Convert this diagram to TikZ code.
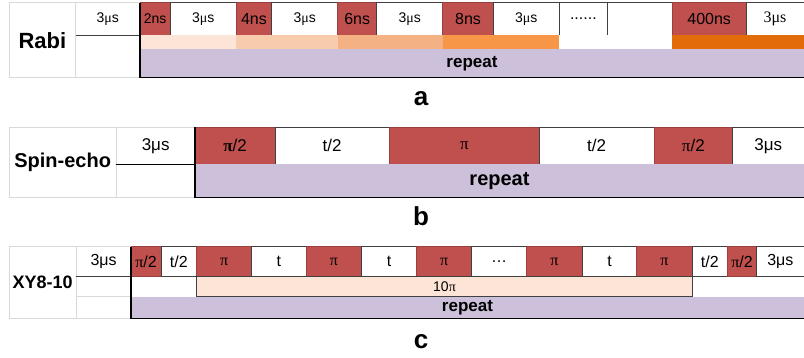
\documentclass[tikz,border=0pt]{standalone}
\usepackage{fontspec}
\setmainfont{Liberation Sans}
\newfontfamily\symf{Liberation Serif}
\usepackage{xcolor}
\usepackage{tikz}
\usetikzlibrary{positioning}
\definecolor{pulsered}{HTML}{C0504D}
\definecolor{repviolet}{HTML}{CCC0DA}
\definecolor{gridgray}{HTML}{D9D9D9}
\definecolor{edgegray}{HTML}{404040}
\definecolor{amp1}{HTML}{FCE4D6}
\definecolor{amp2}{HTML}{F8CBAD}
\definecolor{amp3}{HTML}{F4B183}
\definecolor{amp4}{HTML}{F79646}
\definecolor{amp5}{HTML}{E26B0A}
\newcommand{\pii}{{\symf π}}
\newcommand{\mus}{3{\symf μ}s}
% cell from x1 to x2 and y1 to y2 (pixel units)
\newcommand{\Cell}[7]{%
  \node[#2,minimum width={#4pt-#3pt},minimum height={#6pt-#5pt}]
    (#1) at ({(#3+#4)/2},{(#5+#6)/2}) {#7};}

\begin{document}
\begin{tikzpicture}[
  x=1pt,y=-1pt,
  every node/.style={inner sep=0pt,outer sep=0pt,font=\fontsize{16}{18}\selectfont},
  grid/.style={draw=gridgray,line width=0.6pt},
  cell/.style={draw=edgegray,line width=0.6pt,fill=white},
  pulse/.style={cell,fill=pulsered,draw=pulsered!80!black},
  band/.style={fill=#1},
  rep/.style={fill=repviolet,font=\bfseries\fontsize{17}{19}\selectfont},
  frame/.style={line width=1.5pt,black},
  title/.style={font=\bfseries\fontsize{22}{24}\selectfont},
  panel/.style={font=\bfseries\fontsize{26}{28}\selectfont},
]
\useasboundingbox (0,0) rectangle (804,358);

% ---- a: Rabi
\Cell{rabiL}{grid,title}{9}{75.7}{2.7}{77.7}{Rabi}
\Cell{rabiW}{grid,font=\fontsize{14}{16}\selectfont}{75.7}{140}{2.7}{35}{\mus}
\Cell{rabiWb}{grid}{75.7}{140}{35}{77.7}{}
\draw[edgegray,line width=0.8pt] (rabiW.south west) -- (rabiW.south east);
\Cell{a1}{pulse,font=\fontsize{14}{16}\selectfont}{140}{170.3}{2.7}{35}{2ns}
\Cell{a2}{cell,font=\fontsize{14}{16}\selectfont}{170.3}{236.3}{2.7}{35}{\mus}
\Cell{a3}{pulse}{236.3}{271.7}{2.7}{35}{4ns}
\Cell{a4}{cell,font=\fontsize{14}{16}\selectfont}{271.7}{337.7}{2.7}{35}{\mus}
\Cell{a5}{pulse}{337.7}{376.7}{2.7}{35}{6ns}
\Cell{a6}{cell,font=\fontsize{14}{16}\selectfont}{376.7}{442.7}{2.7}{35}{\mus}
\Cell{a7}{pulse}{442.7}{493.3}{2.7}{35}{8ns}
\Cell{a8}{cell,font=\fontsize{14}{16}\selectfont}{493.3}{559}{2.7}{35}{\mus}
\Cell{a9}{cell}{559}{607.7}{2.7}{35}{......}
\Cell{a10}{cell}{607.7}{672.3}{2.7}{35}{}
\Cell{a11}{pulse}{672.3}{746}{2.7}{35}{400ns}
\Cell{a12}{cell,font=\symf\fontsize{16}{18}\selectfont}{746}{804}{2.7}{35}{3μs}
% amplitude bands
\Cell{o1}{band=amp1}{140}{236.3}{35}{49}{}
\Cell{o2}{band=amp2}{236.3}{337.7}{35}{49}{}
\Cell{o3}{band=amp3}{337.7}{442.7}{35}{49}{}
\Cell{o4}{band=amp4}{442.7}{559}{35}{49}{}
\Cell{o5}{band=white}{559}{672.3}{35}{49}{}
\Cell{o6}{band=amp5}{672.3}{804}{35}{49}{}
\Cell{repa}{rep}{140}{804}{49}{77.7}{repeat}
\draw[frame] (rabiW.north east) -- (rabiW.north east |- repa.south) -- (repa.south east);
\node[panel] (la) at (421,99) {a};

% ---- b: Spin-echo
\Cell{seL}{grid,font=\bfseries\fontsize{20}{22}\selectfont}{9}{116.3}{127.3}{197.3}{Spin-echo}
\Cell{seW}{grid,font=\fontsize{17}{19}\selectfont}{116.3}{195}{127.3}{164.3}{3μs}
\Cell{seWb}{grid}{116.3}{195}{164.3}{197.3}{}
\draw[black,line width=1pt] (seW.south west) -- (seW.south east);
\Cell{b1}{pulse,font=\fontsize{17}{19}\selectfont}{195}{275}{127.3}{164.3}{\textbf{\pii}/2}
\Cell{b2}{cell,font=\fontsize{17}{19}\selectfont}{275}{389.3}{127.3}{164.3}{t/2}
\Cell{b3}{pulse,font=\fontsize{17}{19}\selectfont}{389.3}{539.3}{127.3}{164.3}{\pii}
\Cell{b4}{cell,font=\fontsize{17}{19}\selectfont}{539.3}{654}{127.3}{164.3}{t/2}
\Cell{b5}{pulse,font=\fontsize{17}{19}\selectfont}{654}{732.7}{127.3}{164.3}{\pii/2}
\Cell{b6}{cell,font=\fontsize{17}{19}\selectfont}{732.7}{804}{127.3}{164.3}{3μs}
\Cell{repb}{rep,font=\bfseries\fontsize{20}{22}\selectfont}{195}{804}{164.3}{197.3}{repeat}
\draw[frame] (seW.north east) -- (seW.north east |- repb.south) -- (repb.south east);
\node[panel] (lb) at (421,216) {b};

% ---- c: XY8-10
\Cell{xyL}{grid,font=\bfseries\fontsize{18}{20}\selectfont}{9}{76.3}{246.7}{318.3}{XY8-10}
\Cell{xyW}{grid}{76.3}{131}{246.7}{276.7}{3μs}
\Cell{xyWm}{grid}{76.3}{131}{276.7}{296.7}{}
\Cell{xyWb}{grid}{76.3}{131}{296.7}{318.3}{}
\draw[edgegray,line width=0.8pt] (xyW.south west) -- (xyW.south east);
\Cell{c1}{pulse}{131}{161}{246.7}{276.7}{\pii/2}
\Cell{c2}{cell}{161}{196.7}{246.7}{276.7}{t/2}
\Cell{c3}{pulse}{196.7}{251.7}{246.7}{276.7}{\pii}
\Cell{c4}{cell}{251.7}{306}{246.7}{276.7}{t}
\Cell{c5}{pulse}{306}{361.7}{246.7}{276.7}{\pii}
\Cell{c6}{cell}{361.7}{416.7}{246.7}{276.7}{t}
\Cell{c7}{pulse}{416.7}{471.7}{246.7}{276.7}{\pii}
\Cell{c8}{cell}{471.7}{526.7}{246.7}{276.7}{\dots}
\Cell{c9}{pulse}{526.7}{582.3}{246.7}{276.7}{\pii}
\Cell{c10}{cell}{582.3}{636.7}{246.7}{276.7}{t}
\Cell{c11}{pulse}{636.7}{692.3}{246.7}{276.7}{\pii}
\Cell{c12}{cell}{692.3}{727.3}{246.7}{276.7}{t/2}
\Cell{c13}{pulse}{727.3}{756.7}{246.7}{276.7}{\pii/2}
\Cell{c14}{cell}{756.7}{804}{246.7}{276.7}{3μs}
\Cell{tenpi}{cell,fill=amp1,font=\fontsize{14}{16}\selectfont}{196.7}{692.3}{276.7}{296.7}{10\pii}
\Cell{repc}{rep}{131}{804}{296.7}{318.3}{repeat}
\draw[frame] (xyW.north east) -- (xyW.north east |- repc.south) -- (repc.south east);
\node[panel] (lc) at (421,342) {c};
\end{tikzpicture}
\end{document}
